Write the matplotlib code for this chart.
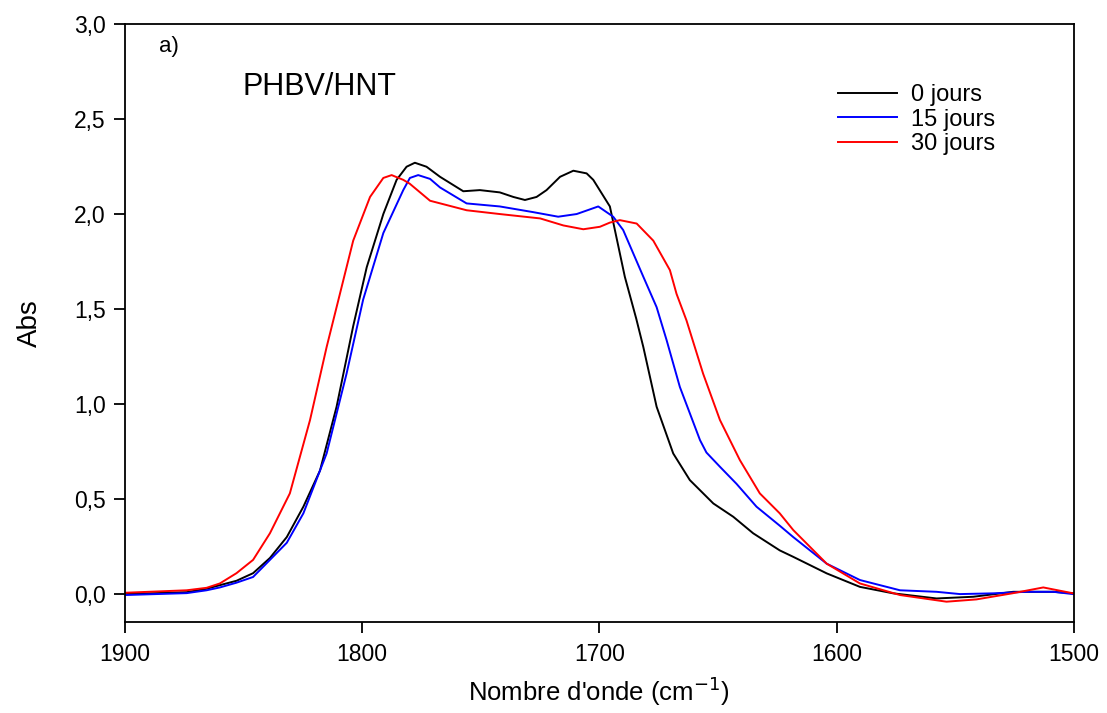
import numpy as np
import matplotlib.pyplot as plt

plt.rcParams['font.family'] = ['Liberation Sans', 'DejaVu Sans']

# --- spectra (wavenumber in cm-1, absorbance) ---
w0 = [1900, 1874, 1865.6, 1860, 1853, 1846, 1838.9, 1831.8, 1824.8, 1817.8, 1810.8,
      1803.8, 1798.1, 1791.1, 1785.5, 1781.3, 1777.8, 1772.9, 1767.2, 1757.4, 1750.4,
      1742, 1736.3, 1731.4, 1726.5, 1722.3, 1716.6, 1711, 1705.4, 1702.6, 1695.6,
      1689.3, 1684.5, 1681.5, 1675.9, 1668.9, 1661.9, 1652, 1643.6, 1635.2, 1624,
      1618.3, 1604.2, 1590.2, 1576.2, 1557.9, 1542.4, 1525.6, 1508.7, 1500]
a0 = [0.0, 0.01, 0.028, 0.047, 0.07, 0.11, 0.19, 0.30, 0.46, 0.65, 0.986,
      1.41, 1.72, 2.00, 2.18, 2.249, 2.27, 2.249, 2.196, 2.12, 2.126,
      2.114, 2.09, 2.074, 2.09, 2.126, 2.196, 2.228, 2.214, 2.18, 2.04,
      1.67, 1.45, 1.30, 0.986, 0.74, 0.60, 0.477, 0.407, 0.32, 0.23,
      0.196, 0.109, 0.038, 0.004, -0.023, -0.014, 0.012, 0.012, 0.004]

w15 = [1900, 1874, 1865.6, 1860, 1853, 1846, 1838.9, 1831.8, 1824.8, 1815, 1806.6,
       1799.6, 1791.1, 1782.7, 1779.9, 1776.4, 1771.4, 1767.2, 1756, 1742, 1727.9,
       1717.4, 1709.6, 1700.5, 1694.2, 1690, 1681.5, 1675.9, 1671.7, 1666.1, 1657.6,
       1654.9, 1649.2, 1642.2, 1633.8, 1624, 1618.3, 1604.2, 1590.2, 1573.3, 1557.9,
       1548, 1534, 1520, 1508.7, 1500.3]
a15 = [-0.005, 0.005, 0.02, 0.035, 0.06, 0.09, 0.18, 0.27, 0.425, 0.74, 1.16,
       1.55, 1.90, 2.126, 2.19, 2.205, 2.185, 2.14, 2.056, 2.04, 2.01,
       1.986, 2.00, 2.04, 1.986, 1.916, 1.67, 1.51, 1.337, 1.09, 0.81,
       0.745, 0.67, 0.58, 0.46, 0.36, 0.30, 0.16, 0.074, 0.02, 0.012,
       0.0, 0.004, 0.012, 0.012, 0.0]

w30 = [1900, 1874, 1865.6, 1860, 1853, 1846, 1838.9, 1830.5, 1822, 1815, 1809.4,
       1803.8, 1796.7, 1791.1, 1787.6, 1782.7, 1780, 1771.4, 1756, 1742, 1725,
       1715.2, 1706.8, 1699.8, 1695.6, 1691.4, 1684.3, 1677.3, 1670.3, 1667.5, 1663.3,
       1656.3, 1649.2, 1640.8, 1632.4, 1624, 1618.3, 1604.2, 1590.2, 1573.3, 1553.7,
       1541.1, 1526, 1512.9, 1500.3]
a30 = [0.007, 0.02, 0.033, 0.056, 0.11, 0.18, 0.32, 0.53, 0.916, 1.30, 1.58,
       1.86, 2.09, 2.19, 2.205, 2.18, 2.16, 2.07, 2.02, 2.0, 1.977,
       1.94, 1.92, 1.933, 1.955, 1.968, 1.95, 1.86, 1.705, 1.58, 1.44,
       1.16, 0.916, 0.705, 0.53, 0.425, 0.337, 0.16, 0.056, -0.005, -0.04,
       -0.028, 0.004, 0.035, 0.004]

labels = ['0 jours', '15 jours', '30 jours']
colors = ['black', 'blue', 'red']

fig = plt.figure(figsize=(11.07, 7.13), dpi=100)
ax = fig.add_axes([0.1129, 0.1276, 0.8572, 0.8387])

for w, a, lab, c in zip([w0, w15, w30], [a0, a15, a30], labels, colors):
    ax.plot(w, a, color=c, lw=1.4, label=lab, solid_joinstyle='round')

ax.set_xlim(1900, 1500)
ax.set_ylim(-0.147, 3.0)
ax.set_xticks([1900, 1800, 1700, 1600, 1500])
yt = [0.0, 0.5, 1.0, 1.5, 2.0, 2.5, 3.0]
ax.set_yticks(yt)
ax.set_yticklabels([f'{v:.1f}'.replace('.', ',') for v in yt])
ax.tick_params(direction='out', length=8, width=1.3, labelsize=16.5, pad=6,
               top=False, right=False)
ax.tick_params(axis='x', pad=7)
for s in ax.spines.values():
    s.set_linewidth(1.3)

ax.set_xlabel("Nombre d'onde (cm$^{-1}$)", fontsize=18.5, labelpad=6)
ax.set_ylabel('Abs', fontsize=20, labelpad=22)

ax.text(0.036, 0.962, 'a)', transform=ax.transAxes, fontsize=16, va='center')
ax.text(0.124, 0.894, 'PHBV/HNT', transform=ax.transAxes, fontsize=22, va='center')

ax.legend(loc='upper left', bbox_to_anchor=(0.751, 0.90), frameon=False, fontsize=17,
          handlelength=2.5, handletextpad=0.6, labelspacing=0.12,
          borderpad=0, borderaxespad=0)

fig.savefig('out.png', dpi=100)
